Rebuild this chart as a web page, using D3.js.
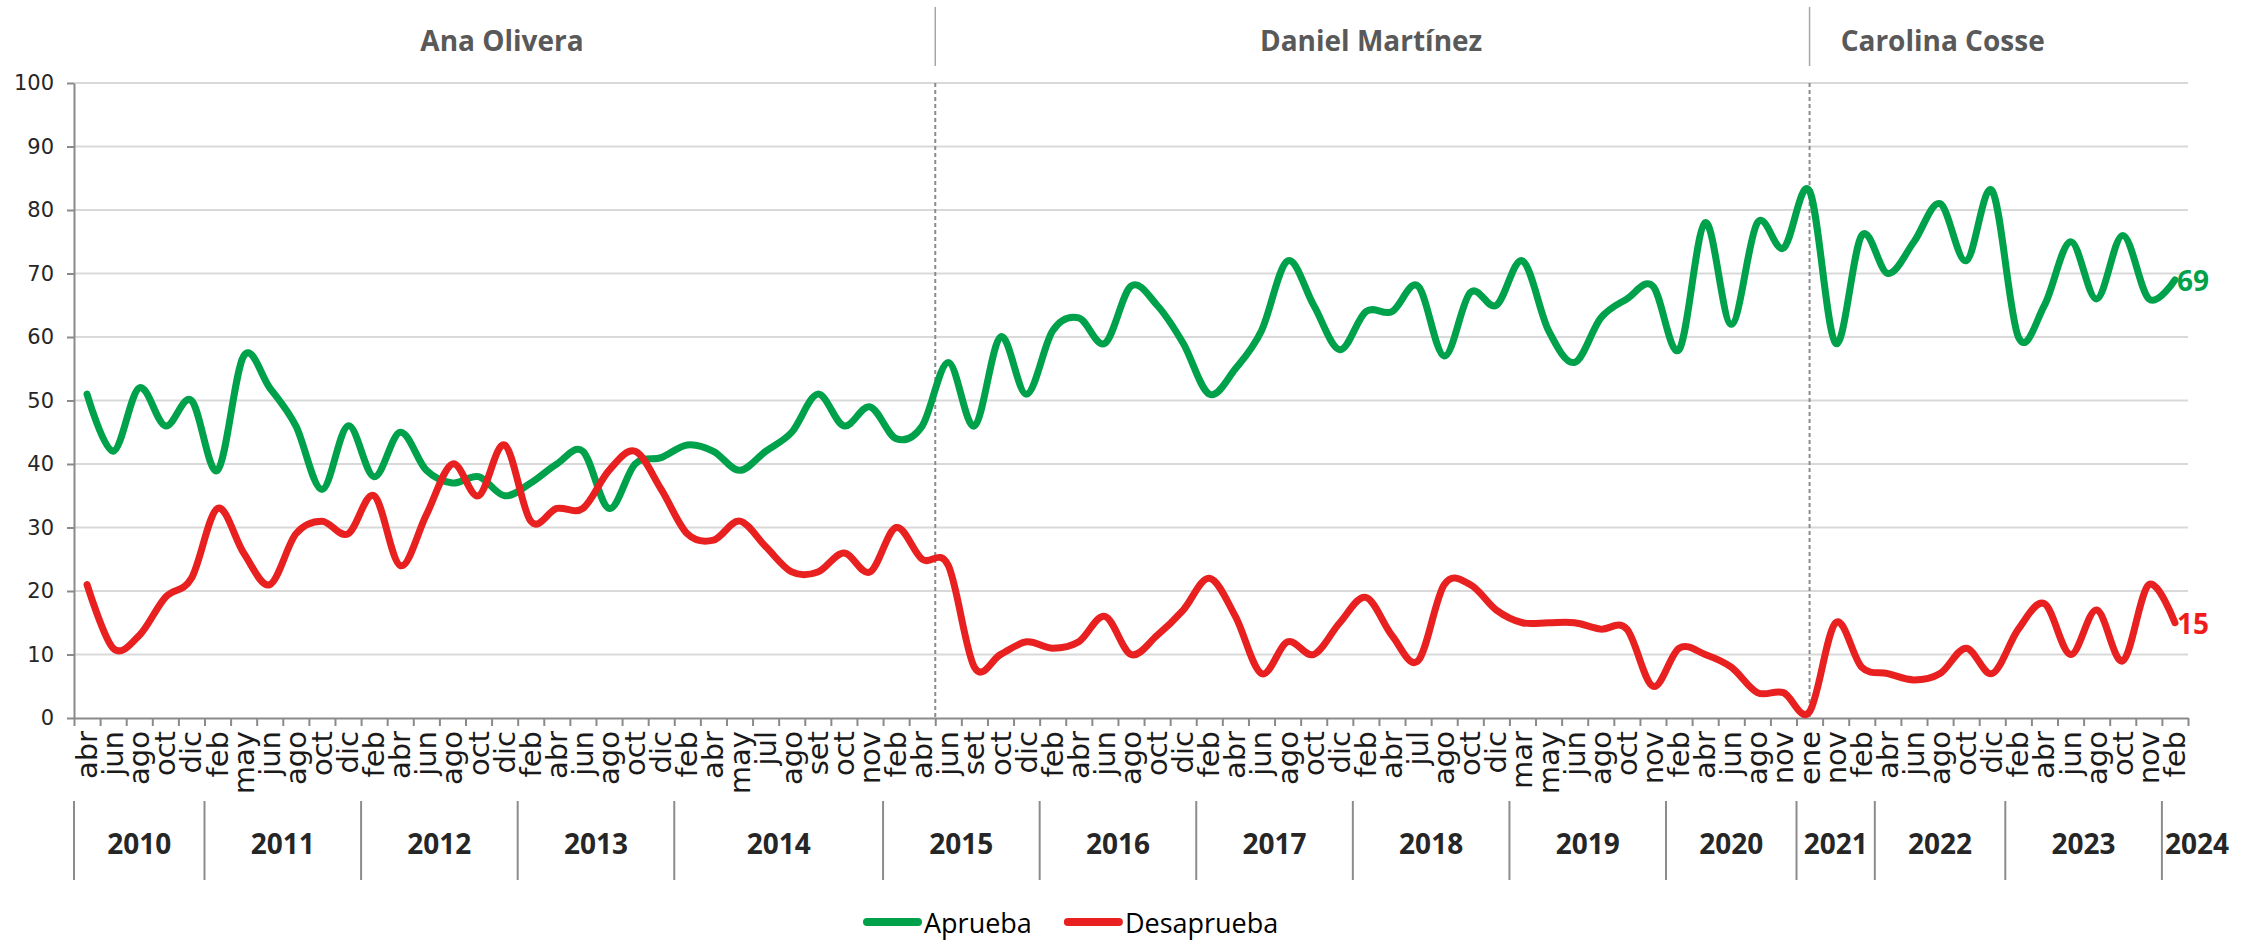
<!DOCTYPE html>
<html>
<head>
<meta charset="utf-8">
<script src="https://cdn.jsdelivr.net/npm/d3@7/dist/d3.min.js"></script>
<style>
  html, body { margin: 0; padding: 0; background: #ffffff; }
  svg { display: block; }
</style>
</head>
<body>
<svg id="chart" width="2257" height="940"></svg>
<script>
// ---------------- DATA ----------------
const months = [
  "abr","jun","ago","oct","dic",
  "feb","may","jun","ago","oct","dic",
  "feb","abr","jun","ago","oct","dic",
  "feb","abr","jun","ago","oct","dic",
  "feb","abr","may","jul","ago","set","oct","nov",
  "feb","abr","jun","set","oct","dic",
  "feb","abr","jun","ago","oct","dic",
  "feb","abr","jun","ago","oct","dic",
  "feb","abr","jul","ago","oct","dic",
  "mar","may","jun","ago","oct","nov",
  "feb","abr","jun","ago","nov",
  "ene","nov",
  "feb","abr","jun","ago","oct","dic",
  "feb","abr","jun","ago","oct","nov",
  "feb"
];

// year groups as drawn under the month labels (number of categories in each)
const years      = ["2010","2011","2012","2013","2014","2015","2016","2017","2018","2019","2020","2021","2022","2023","2024"];
const yearCounts = [5, 6, 6, 6, 8, 6, 6, 6, 6, 6, 5, 3, 5, 6, 1];

const aprueba = [
  51,42,52,46,50,
  39,57,52,46,36,46,
  38,45,39,37,38,35,
  37,40,42,33,40,41,
  43,42,39,42,45,51,46,49,
  44,46,56,46,60,51,
  61,63,59,68,65,59,
  51,55,61,72,65,58,
  64,64,68,57,67,65,
  72,61,56,63,66,68,
  58,78,62,78,74,
  83,59,
  76,70,75,81,72,83,
  60,65,75,66,76,66,
  69
];

const desaprueba = [
  21,11,13,19,22,
  33,26,21,29,31,29,
  35,24,32,40,35,43,
  31,33,33,39,42,36,
  29,28,31,27,23,23,26,23,
  30,25,24,8,10,12,
  11,12,16,10,13,17,
  22,16,7,12,10,15,
  19,13,9,21,21,17,
  15,15,15,14,14,5,
  11,10,8,4,4,
  1,15,
  8,7,6,7,11,7,
  14,18,10,17,9,21,
  15
];

const yTicks = [0,10,20,30,40,50,60,70,80,90,100];

// administrations: divider positions in category units, label anchor in category units
const periodNames   = ["Ana Olivera", "Daniel Martínez", "Carolina Cosse"];
const periodLabelAt = [16.4, 49.7, 71.6];
const dividersAt    = [33, 66.5];

const seriesNames  = ["Aprueba", "Desaprueba"];
const seriesColors = ["#00a14b", "#e8201f"];
const labelColors  = ["#00a14b", "#f01c1c"];

// ---------------- LAYOUT ----------------
(function () {
const W = 2257, H = 940;
const pLeft = 74, pRight = 2188, pTop = 83, pBottom = 718;
const n = months.length;

const svg = d3.select("#chart");
svg.append("rect").attr("width", W).attr("height", H).attr("fill", "#ffffff");

const xl = d3.scaleLinear().domain([0, n]).range([pLeft, pRight]);
const xc = i => xl(i + 0.5);
const y = d3.scaleLinear().domain([0, 100]).range([pBottom, pTop]);

const AX = "#8a8a8a";

// gridlines
svg.append("g").selectAll("line").data(yTicks.filter(t => t > 0)).join("line")
  .attr("x1", pLeft).attr("x2", pRight)
  .attr("y1", d => y(d)).attr("y2", d => y(d))
  .attr("stroke", "#d9d9d9").attr("stroke-width", 2);

// Y axis
const yAxis = svg.append("g").attr("transform", `translate(${pLeft},0)`)
  .call(d3.axisLeft(y).tickValues(yTicks).tickSize(7).tickPadding(13).tickSizeOuter(0));
yAxis.select(".domain").attr("stroke", AX).attr("stroke-width", 2);
yAxis.selectAll(".tick line").attr("stroke", AX).attr("stroke-width", 2);
yAxis.selectAll(".tick text")
  .attr("font-family", "'DejaVu Sans', sans-serif").attr("font-size", 21).attr("fill", "#262626");

// dashed dividers in plot
svg.append("g").selectAll("line").data(dividersAt).join("line")
  .attr("x1", d => xl(d)).attr("x2", d => xl(d))
  .attr("y1", pTop).attr("y2", pBottom)
  .attr("stroke", "#8c8c8c").attr("stroke-width", 2).attr("stroke-dasharray", "4,3");

// header solid dividers
svg.append("g").selectAll("line").data(dividersAt).join("line")
  .attr("x1", d => xl(d)).attr("x2", d => xl(d))
  .attr("y1", 7).attr("y2", 66)
  .attr("stroke", "#a6a6a6").attr("stroke-width", 1.5);

// header names
svg.append("g").selectAll("text").data(periodNames).join("text")
  .attr("x", (d, i) => xl(periodLabelAt[i])).attr("y", 40)
  .attr("text-anchor", "middle").attr("dominant-baseline", "central")
  .attr("font-family", "'Open Sans', sans-serif").attr("font-weight", 700)
  .attr("font-size", 28).attr("fill", "#595959")
  .text(d => d);

// X axis with ticks at category boundaries
const xAxis = svg.append("g").attr("transform", `translate(0,${pBottom})`)
  .call(d3.axisBottom(xl).tickValues(d3.range(0, n + 1)).tickFormat("").tickSize(8).tickSizeOuter(0));
xAxis.select(".domain").attr("stroke", AX).attr("stroke-width", 2);
xAxis.selectAll(".tick line").attr("stroke", AX).attr("stroke-width", 2);

// month labels
svg.append("g").selectAll("text").data(months).join("text")
  .attr("transform", (d, i) => `translate(${xc(i)},${pBottom + 13}) rotate(-90)`)
  .attr("text-anchor", "end").attr("dominant-baseline", "central")
  .attr("font-family", "'DejaVu Sans', sans-serif").attr("font-size", 29).attr("fill", "#1a1a1a")
  .text(d => d);

// year groups
const starts = [];
let acc = 0;
yearCounts.forEach(c => { starts.push(acc); acc += c; });
svg.append("g").selectAll("line").data(starts).join("line")
  .attr("x1", d => xl(d)).attr("x2", d => xl(d))
  .attr("y1", 801).attr("y2", 880)
  .attr("stroke", "#8c8c8c").attr("stroke-width", 2);
const yearText = svg.append("g").selectAll("text").data(years).join("text")
  .attr("x", (d, i) => xl(starts[i] + yearCounts[i] / 2)).attr("y", 843)
  .attr("text-anchor", "middle").attr("dominant-baseline", "central")
  .attr("font-family", "'Open Sans', sans-serif").attr("font-weight", 700)
  .attr("font-size", 28).attr("fill", "#262626")
  .text(d => d);
// keep a label from starting before its own group line
yearText.each(function (d, i) {
  const w = this.getComputedTextLength();
  const minX = xl(starts[i]) + w / 2 + 3;
  const cx = xl(starts[i] + yearCounts[i] / 2);
  if (cx < minX) d3.select(this).attr("x", minX);
});

// lines
const line = d3.line().x((d, i) => xc(i)).y(d => y(d)).curve(d3.curveCardinal.tension(0));
const seriesData = [aprueba, desaprueba];
svg.append("g").selectAll("path").data(seriesData).join("path")
  .attr("d", d => line(d))
  .attr("fill", "none")
  .attr("stroke", (d, i) => seriesColors[i])
  .attr("stroke-width", 7)
  .attr("stroke-linejoin", "round").attr("stroke-linecap", "round");

// end labels
svg.append("g").selectAll("text").data(seriesData).join("text")
  .attr("x", d => xc(d.length - 1) + 2)
  .attr("y", d => y(d[d.length - 1]))
  .attr("dominant-baseline", "central")
  .attr("font-family", "'Open Sans', sans-serif").attr("font-weight", 700)
  .attr("font-size", 28).attr("fill", (d, i) => labelColors[i])
  .text(d => d[d.length - 1]);

// legend
const legend = svg.append("g");
let lx = 863;
const ly = 922;
seriesNames.forEach((name, i) => {
  legend.append("line")
    .attr("x1", lx + 4).attr("x2", lx + 55).attr("y1", ly).attr("y2", ly)
    .attr("stroke", seriesColors[i]).attr("stroke-width", 8).attr("stroke-linecap", "round");
  const t = legend.append("text")
    .attr("x", lx + 61).attr("y", ly)
    .attr("dominant-baseline", "central")
    .attr("font-family", "'Open Sans', sans-serif").attr("font-size", 27).attr("fill", "#000")
    .text(name);
  lx = lx + 61 + t.node().getComputedTextLength() + 32;
});
})();
</script>
</body>
</html>
